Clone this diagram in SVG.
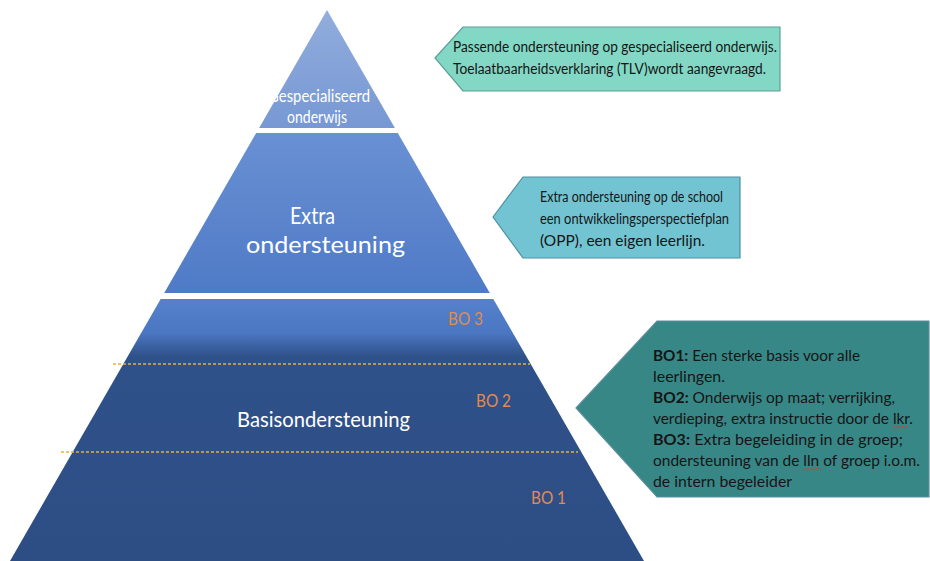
<svg xmlns="http://www.w3.org/2000/svg" width="930" height="561" viewBox="0 0 930 561">
  <style>
    .t { font-family: Lato, "Open Sans", "Liberation Sans", sans-serif; }
    .w { fill: #ffffff; }
    .bo { fill: #e38a4f; font-size: 17px; }
    .c { fill: #151515; font-size: 14.5px; }
    .b { font-weight: bold; }
    .dash { stroke: #e8b040; stroke-width: 1.5; stroke-dasharray: 3 2; fill: none; }
    .sq { stroke: #d83a3a; stroke-width: 1; fill: none; }
  </style>
  <defs>
    <linearGradient id="gTop" gradientUnits="userSpaceOnUse" x1="0" y1="10" x2="0" y2="128">
      <stop offset="0" stop-color="#92addd"/>
      <stop offset="1" stop-color="#7798d4"/>
    </linearGradient>
    <linearGradient id="gMid" gradientUnits="userSpaceOnUse" x1="0" y1="133" x2="0" y2="293">
      <stop offset="0" stop-color="#6990d3"/>
      <stop offset="1" stop-color="#4f7ac6"/>
    </linearGradient>
    <linearGradient id="gBot" gradientUnits="userSpaceOnUse" x1="0" y1="299" x2="0" y2="561">
      <stop offset="0" stop-color="#5582cc"/>
      <stop offset="0.13" stop-color="#4a76c2"/>
      <stop offset="0.22" stop-color="#2f5189"/>
      <stop offset="1" stop-color="#2d4e85"/>
    </linearGradient>
  </defs>

  <g id="tier-gespecialiseerd">
    <polygon points="327,10 394.9,128 259.1,128" fill="url(#gTop)"/>
    <text class="t w" x="268" y="102" font-size="16.5" textLength="102" lengthAdjust="spacingAndGlyphs">Gespecialiseerd</text>
    <text class="t w" x="287" y="123" font-size="16.5" textLength="60" lengthAdjust="spacingAndGlyphs">onderwijs</text>
  </g>

  <g id="tier-extra">
    <polygon points="256.2,133 397.8,133 489.8,293 164.2,293" fill="url(#gMid)"/>
    <text class="t w" x="290" y="224" font-size="23" textLength="45" lengthAdjust="spacingAndGlyphs">Extra</text>
    <text class="t w" x="246" y="253" font-size="23" textLength="159" lengthAdjust="spacingAndGlyphs">ondersteuning</text>
  </g>

  <g id="tier-basis">
    <polygon points="160.7,299 493.3,299 644,561 10,561" fill="url(#gBot)"/>
    <line class="dash" x1="113" y1="364" x2="530" y2="364"/>
    <line class="dash" x1="61" y1="452" x2="578" y2="452"/>
    <text class="t w" x="237" y="427" font-size="21" textLength="173" lengthAdjust="spacingAndGlyphs">Basisondersteuning</text>
    <text class="t bo" x="448" y="325" textLength="35" lengthAdjust="spacingAndGlyphs">BO 3</text>
    <text class="t bo" x="476" y="407" textLength="35" lengthAdjust="spacingAndGlyphs">BO 2</text>
    <text class="t bo" x="531" y="504" textLength="35" lengthAdjust="spacingAndGlyphs">BO 1</text>
  </g>

  <g id="callout-gespecialiseerd">
    <polygon points="435,58 463,27 780,27 780,91 463,91" fill="#82d8c5" stroke="#5f9e95" stroke-width="1.2"/>
    <text class="t c" x="453" y="52" textLength="324" lengthAdjust="spacingAndGlyphs">Passende ondersteuning op gespecialiseerd onderwijs.</text>
    <text class="t c" x="453" y="74" textLength="313" lengthAdjust="spacingAndGlyphs">Toelaatbaarheidsverklaring (TLV)wordt aangevraagd.</text>
  </g>

  <g id="callout-extra">
    <polygon points="493,217 523,177 740,177 740,258 523,258" fill="#72c4d3" stroke="#4e8fa2" stroke-width="1.2"/>
    <text class="t c" x="540" y="202" font-size="15.5" textLength="183" lengthAdjust="spacingAndGlyphs">Extra ondersteuning op de school</text>
    <text class="t c" x="540" y="224" font-size="15.5" textLength="189" lengthAdjust="spacingAndGlyphs">een ontwikkelingsperspectiefplan</text>
    <text class="t c" x="540" y="246" font-size="15.5" textLength="165" lengthAdjust="spacingAndGlyphs">(OPP), een eigen leerlijn.</text>
  </g>

  <g id="callout-basis">
    <polygon points="576,408 657,321 929,321 929,497 657,497" fill="#388787" stroke="#5a8f9c" stroke-width="1.2"/>
    <text class="t c" x="653" y="361" font-size="16" textLength="207" lengthAdjust="spacingAndGlyphs"><tspan class="b">BO1:</tspan> Een sterke basis voor alle</text>
    <text class="t c" x="653" y="382" font-size="16" textLength="72" lengthAdjust="spacingAndGlyphs">leerlingen.</text>
    <text class="t c" x="653" y="403" font-size="16" textLength="242" lengthAdjust="spacingAndGlyphs"><tspan class="b">BO2:</tspan> Onderwijs op maat; verrijking,</text>
    <text class="t c" x="653" y="424" font-size="16" textLength="260" lengthAdjust="spacingAndGlyphs">verdieping, extra instructie door de lkr.</text>
    <text class="t c" x="653" y="445" font-size="16" textLength="250" lengthAdjust="spacingAndGlyphs"><tspan class="b">BO3:</tspan> Extra begeleiding in de groep;</text>
    <text class="t c" x="653" y="466" font-size="16" textLength="267" lengthAdjust="spacingAndGlyphs">ondersteuning van de lln of groep i.o.m.</text>
    <text class="t c" x="653" y="487" font-size="16" textLength="139" lengthAdjust="spacingAndGlyphs">de intern begeleider</text>
    <path class="sq" d="M893,428 l2,-1.5 l2,1.5 l2,-1.5 l2,1.5 l2,-1.5 l2,1.5 l2,-1.5 l2,1.5"/>
    <path class="sq" d="M803,470 l2,-1.5 l2,1.5 l2,-1.5 l2,1.5 l2,-1.5 l2,1.5 l2,-1.5 l2,1.5 l2,-1.5"/>
  </g>
</svg>
